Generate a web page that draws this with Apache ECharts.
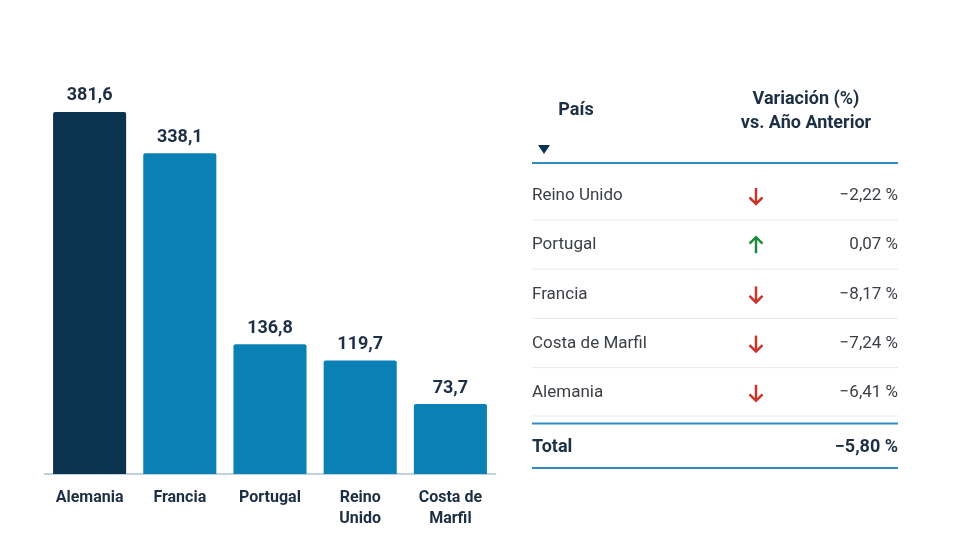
<!DOCTYPE html>
<html>
<head>
<meta charset="utf-8">
<script src="https://cdn.jsdelivr.net/npm/echarts@6/dist/echarts.min.js"></script>
<style>
  html, body { margin: 0; padding: 0; background: #fff; }
  #main { width: 980px; height: 560px; }
</style>
</head>
<body>
<div id="main"></div>
<script>
// bar chart data
const countries = ['Alemania', 'Francia', 'Portugal', 'Reino Unido', 'Costa de Marfil'];
const axisLabels = ['Alemania', 'Francia', 'Portugal', 'Reino\nUnido', 'Costa de\nMarfil'];
const volumes = [381.6, 338.1, 136.8, 119.7, 73.7];

// table data
const tableCountries = ['Reino Unido', 'Portugal', 'Francia', 'Costa de Marfil', 'Alemania'];
const variations = [-2.22, 0.07, -8.17, -7.24, -6.41];
const totalVariation = -5.80;

const NAVY = '#0b3350';
const BLUE = '#0a80b4';
const TEXT = '#1c2f44';
const FONT = 'Roboto, "Noto Sans", sans-serif';

// formats numbers with comma decimal
function fmt(v, d) {
    let s = Math.abs(v).toFixed(d).replace('.', ',');
    return (v < 0 ? '\u2212' : '') + s;
}

// table drawn with graphic elements
const tableLeft = 532;
const tableRight = 898;
const arrowX = 756;
const firstRowY = 196;
const rowStep = 49.2;

let graphics = [
    { type: 'text', x: 576, y: 110,
      style: { text: 'País', font: 'bold 18px ' + FONT, fill: TEXT, align: 'center', verticalAlign: 'middle' } },
    { type: 'text', x: 806, y: 99,
      style: { text: 'Variación (%)', font: 'bold 18px ' + FONT, fill: TEXT, align: 'center', verticalAlign: 'middle' } },
    { type: 'text', x: 806, y: 123,
      style: { text: 'vs. Año Anterior', font: 'bold 18px ' + FONT, fill: TEXT, align: 'center', verticalAlign: 'middle' } },
    { type: 'polygon', shape: { points: [[538, 145], [550, 145], [544, 154]] },
      style: { fill: NAVY } },
    { type: 'line', shape: { x1: tableLeft, y1: 163, x2: tableRight, y2: 163 },
      style: { stroke: '#2d8cc2', lineWidth: 2 } }
];

tableCountries.forEach((name, i) => {
    const y = firstRowY + i * rowStep;
    const v = variations[i];
    const up = v >= 0;
    const color = up ? '#1f8a3b' : '#c9352a';
    graphics.push({ type: 'text', x: tableLeft, y: y,
        style: { text: name, font: '17px ' + FONT, fill: '#3a3f45', verticalAlign: 'middle' } });
    graphics.push({ type: 'text', x: tableRight, y: y,
        style: { text: fmt(v, 2) + ' %', font: '17px ' + FONT, fill: '#3a3f45', align: 'right', verticalAlign: 'middle' } });
    // arrow
    const top = y - 8, bot = y + 8;
    graphics.push({ type: 'line', shape: up ? { x1: arrowX, y1: bot, x2: arrowX, y2: top + 1 } : { x1: arrowX, y1: top, x2: arrowX, y2: bot - 1 },
        style: { stroke: color, lineWidth: 2.5 } });
    graphics.push({ type: 'polyline',
        shape: { points: up ? [[arrowX - 6.5, top + 6.5], [arrowX, top], [arrowX + 6.5, top + 6.5]]
                            : [[arrowX - 6.5, bot - 6.5], [arrowX, bot], [arrowX + 6.5, bot - 6.5]] },
        style: { stroke: color, lineWidth: 2.5, fill: null } });
    if (i < tableCountries.length - 1) {
        graphics.push({ type: 'line', shape: { x1: tableLeft, y1: y + 24, x2: tableRight, y2: y + 24 },
            style: { stroke: '#e6e9ec', lineWidth: 1 } });
    }
});

graphics.push({ type: 'line', shape: { x1: tableLeft, y1: 416, x2: tableRight, y2: 416 },
    style: { stroke: '#e6e9ec', lineWidth: 1 } });
graphics.push({ type: 'line', shape: { x1: tableLeft, y1: 423.5, x2: tableRight, y2: 423.5 },
    style: { stroke: '#2d8cc2', lineWidth: 2 } });
graphics.push({ type: 'text', x: tableLeft, y: 447,
    style: { text: 'Total', font: 'bold 18px ' + FONT, fill: TEXT, verticalAlign: 'middle' } });
graphics.push({ type: 'text', x: tableRight, y: 447,
    style: { text: fmt(totalVariation, 2) + ' %', font: 'bold 18px ' + FONT, fill: TEXT, align: 'right', verticalAlign: 'middle' } });
graphics.push({ type: 'line', shape: { x1: tableLeft, y1: 468, x2: tableRight, y2: 468 },
    style: { stroke: '#2d8cc2', lineWidth: 2 } });

const option = {
    animation: false,
    textStyle: { fontFamily: FONT },
    grid: { left: 44.5, right: 484.5, top: 94.5, bottom: 86 },
    xAxis: {
        type: 'category',
        data: axisLabels,
        axisLine: { lineStyle: { color: '#a8c5d8', width: 1.5 } },
        axisTick: { show: false },
        axisLabel: { color: TEXT, fontWeight: 'bold', fontSize: 16, margin: 13, lineHeight: 21, interval: 0 }
    },
    yAxis: {
        type: 'value', min: 0, max: 400,
        show: false,
        splitLine: { show: false }
    },
    series: [{
        type: 'bar',
        barCategoryGap: '19%',
        data: volumes.map((v, i) => ({
            value: v,
            itemStyle: { color: i === 0 ? NAVY : BLUE, borderRadius: [2, 2, 0, 0] }
        })),
        label: {
            show: true, position: 'top', distance: 7,
            color: TEXT, fontWeight: 'bold', fontSize: 18,
            formatter: p => fmt(p.value, 1)
        }
    }],
    graphic: graphics
};

let plot = echarts.init(document.querySelector('#main'));
plot.setOption(option);
</script>
</body>
</html>
